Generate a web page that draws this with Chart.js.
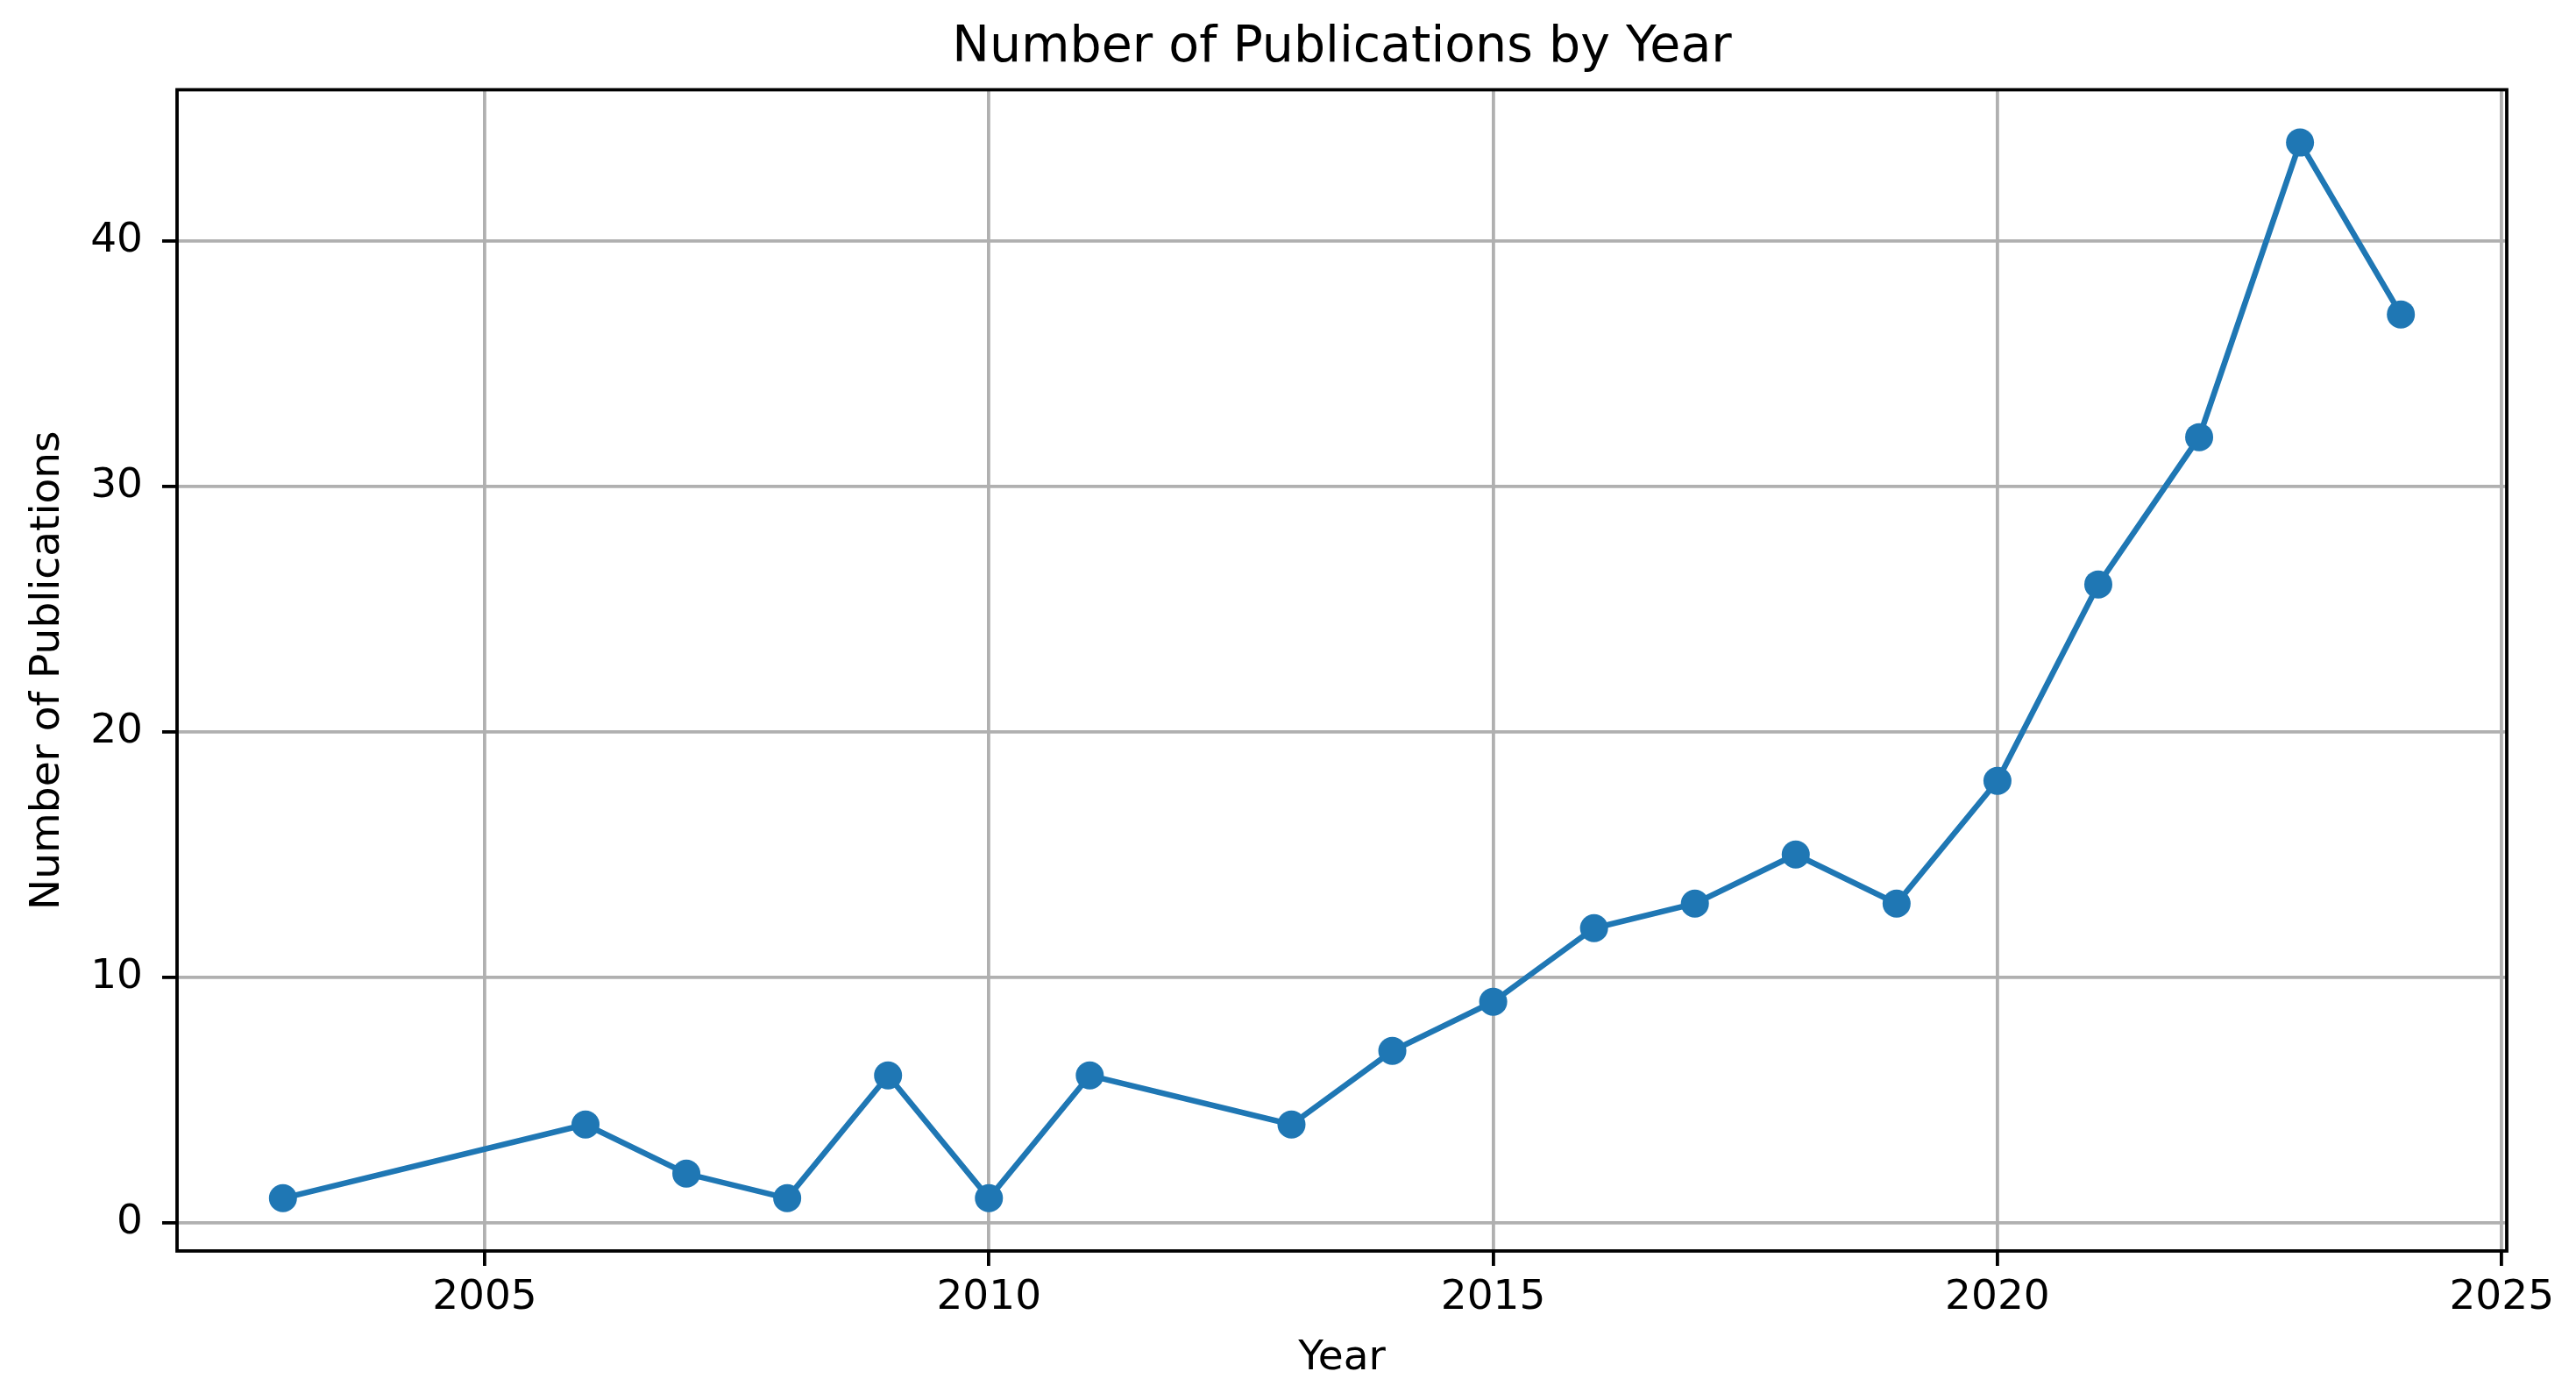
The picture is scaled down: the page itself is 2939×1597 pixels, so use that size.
<!DOCTYPE html>
<html>
<head>
<meta charset="utf-8">
<title>Number of Publications by Year</title>
<script src="https://cdn.jsdelivr.net/npm/chart.js@4.4.1/dist/chart.umd.min.js"></script>
<style>
  html, body { margin: 0; padding: 0; background: #fff; }
  #wrap { width: 2939px; height: 1597px; position: relative; }
</style>
</head>
<body>
<div id="wrap"><canvas id="pubChart"></canvas></div>
<script>
// data
var years = [2003, 2006, 2007, 2008, 2009, 2010, 2011, 2013, 2014, 2015, 2016, 2017, 2018, 2019, 2020, 2021, 2022, 2023, 2024];
var pubCounts = [1, 4, 2, 1, 6, 1, 6, 4, 7, 9, 12, 13, 15, 13, 18, 26, 32, 44, 37];

var xTicks = [2005, 2010, 2015, 2020, 2025];
var yTicks = [0, 10, 20, 30, 40];

var chartTitle = 'Number of Publications by Year';
var xLabel = 'Year';
var yLabel = 'Number of Publications';

var lineColor = '#1f77b4';
var gridColor = '#b0b0b0';
var fontFamily = "'DejaVu Sans', sans-serif";

// matplotlib style 5% margins around data
var xMin = 2001.95, xMax = 2025.05;
var yMin = -1.15, yMax = 46.15;

var points = [];
for (var i = 0; i < years.length; i++) {
  points.push({ x: years[i], y: pubCounts[i] });
}

// draws the four axes spines like a matplotlib box
var frameBox = {
  id: 'frameBox',
  afterDatasetsDraw: function (chart) {
    var a = chart.chartArea;
    var ctx = chart.ctx;
    ctx.save();
    ctx.strokeStyle = '#000';
    ctx.lineWidth = 3.8;
    ctx.strokeRect(a.left, a.top, a.right - a.left, a.bottom - a.top);
    ctx.restore();
  }
};

const ctx = document.getElementById('pubChart');

new Chart(ctx, {
  type: 'line',
  data: {
    datasets: [
      {
        label: 'Publications',
        data: points,
        borderColor: lineColor,
        backgroundColor: lineColor,
        borderWidth: 6.5,
        pointRadius: 16,
        pointHoverRadius: 16,
        pointBorderWidth: 0,
        tension: 0,
        fill: false,
      },
    ],
  },
  plugins: [frameBox],
  options: {
    responsive: true,
    maintainAspectRatio: false,
    animation: false,
    layout: {
      padding: { left: 0, right: 79, top: 0, bottom: 0 },
    },
    plugins: {
      legend: { display: false },
      tooltip: { enabled: false },
      title: {
        display: true,
        fullSize: false, // centre over the plot area, not the whole canvas
        text: chartTitle,
        color: '#000',
        font: { family: fontFamily, size: 57, weight: 'normal', lineHeight: 1.2 },
        padding: { top: 21, bottom: 13 },
      },
    },
    scales: {
      x: {
        type: 'linear',
        min: xMin,
        max: xMax,
        afterBuildTicks: function (axis) {
          axis.ticks = xTicks.map(function (v) { return { value: v }; });
        },
        afterFit: function (axis) {
          axis.height = 170;
        },
        ticks: {
          color: '#000',
          padding: 9,
          maxRotation: 0,
          font: { family: fontFamily, size: 47, lineHeight: 1.2 },
          callback: function (v) { return String(v); },
        },
        grid: {
          color: gridColor,
          lineWidth: 3.8,
          drawTicks: true,
          tickLength: 17,
          tickColor: '#000',
          tickWidth: 3.8,
        },
        border: { display: false },
        title: {
          display: true,
          text: xLabel,
          color: '#000',
          font: { family: fontFamily, size: 47, lineHeight: 1.2 },
          padding: { top: 0, bottom: 19 },
        },
      },
      y: {
        type: 'linear',
        min: yMin,
        max: yMax,
        afterBuildTicks: function (axis) {
          axis.ticks = yTicks.map(function (v) { return { value: v }; });
        },
        afterFit: function (axis) {
          axis.width = 202;
        },
        ticks: {
          color: '#000',
          padding: 22,
          font: { family: fontFamily, size: 47, lineHeight: 1.2 },
          callback: function (v) { return String(v); },
        },
        grid: {
          color: gridColor,
          lineWidth: 3.8,
          drawTicks: true,
          tickLength: 17,
          tickColor: '#000',
          tickWidth: 3.8,
        },
        border: { display: false },
        title: {
          display: true,
          text: yLabel,
          color: '#000',
          font: { family: fontFamily, size: 47, lineHeight: 1.2 },
          padding: { top: 27, bottom: 0 },
        },
      },
    },
  },
});
</script>
</body>
</html>
